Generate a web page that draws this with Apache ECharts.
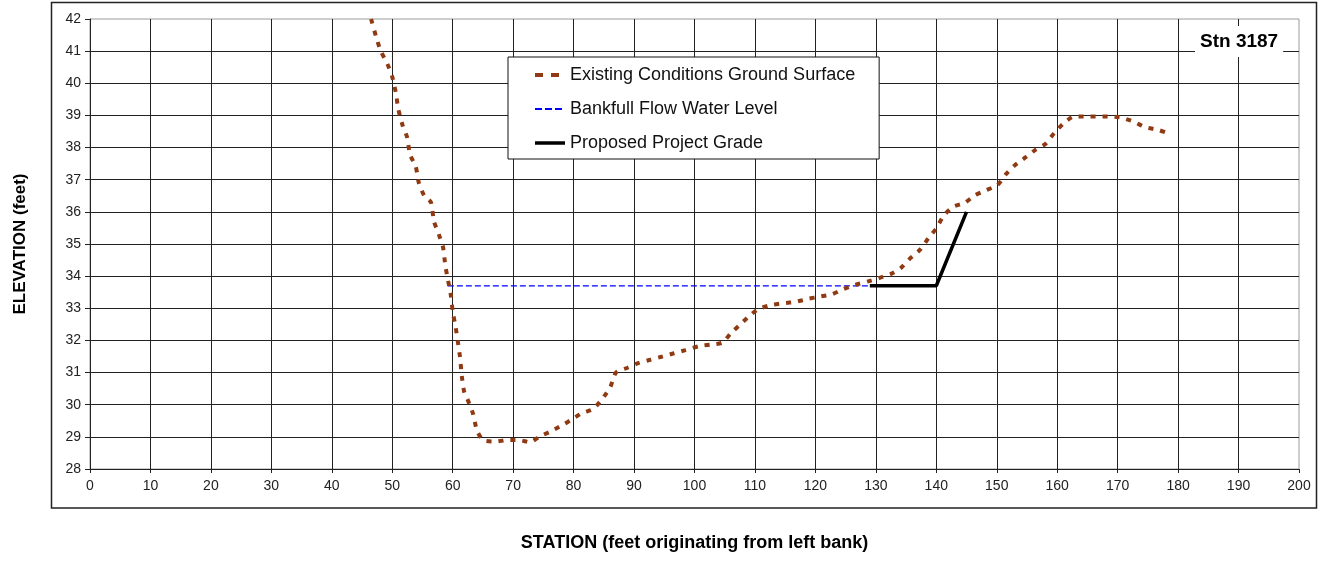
<!DOCTYPE html>
<html>
<head>
<meta charset="utf-8">
<script src="https://cdn.jsdelivr.net/npm/echarts@6/dist/echarts.min.js"></script>
<style>
html,body{margin:0;padding:0;background:#fff;}
#chart{width:1324px;height:572px;}
</style>
</head>
<body>
<div id="chart"></div>
<script>
// ---- data ----
const groundStation = [46.5,47.4,48.1,49.2,50.0,50.6,51.0,51.7,52.5,52.9,53.9,54.4,55.3,56.4,56.9,57.7,58.4,58.8,59.2,59.7,60.0,60.5,60.9,61.2,61.5,61.9,62.6,63.4,64.0,65.0,67.0,69.0,71.0,72.8,74.3,76.1,78.0,79.8,81.4,83.2,84.7,86.1,87.0,88.9,90.8,92.7,94.7,96.6,98.5,100.7,102.7,104.6,106.1,107.6,109.0,110.6,112.9,114.8,116.7,118.7,120.9,122.8,124.7,126.6,128.6,130.5,132.5,134.1,135.7,137.2,138.7,140.0,141.3,142.8,144.7,146.4,148.2,150.1,151.6,153.0,154.8,156.4,158.1,159.5,161.1,162.8,164.8,166.8,168.8,170.7,172.7,174.6,176.7,178.5];
const groundElevation = [42.0,41.4,41.0,40.6,40.2,39.7,39.2,38.7,38.3,37.8,37.4,36.9,36.5,36.3,35.7,35.3,34.9,34.3,33.9,33.4,32.9,32.4,31.9,31.5,30.9,30.4,30.1,29.7,29.2,28.9,28.85,28.9,28.9,28.83,29.0,29.16,29.35,29.55,29.74,29.86,30.17,30.56,31.0,31.15,31.3,31.4,31.5,31.6,31.7,31.82,31.87,31.93,32.24,32.5,32.75,32.98,33.11,33.16,33.2,33.29,33.37,33.44,33.6,33.73,33.83,33.94,34.07,34.25,34.56,34.8,35.18,35.49,35.9,36.16,36.28,36.52,36.67,36.83,37.19,37.45,37.7,37.93,38.12,38.45,38.76,38.97,38.97,38.97,38.97,38.93,38.8,38.63,38.55,38.43];
const bankfullStation = [59.2, 128.8];
const bankfullElevation = [33.7, 33.7];
const gradeStation = [129, 140, 145];
const gradeElevation = [33.7, 33.7, 36.0];
const seriesNames = ['Existing Conditions Ground Surface','Bankfull Flow Water Level','Proposed Project Grade'];
const stationLabel = 'Stn 3187';
const xTitle = 'STATION (feet originating from left bank)';
const yTitle = 'ELEVATION (feet)';

const zip = (a, b) => a.map((v, i) => [v, b[i]]);
const FONT = "Arial, 'Liberation Sans', sans-serif";

const groundStyle = {color: '#8f3a12', width: 4, type: [5, 7], cap: 'butt'};
const bankStyle = {color: '#0000ff', width: 1.2, type: [6, 3]};
const gradeStyle = {color: '#000', width: 3.5, type: 'solid'};

const chart = echarts.init(document.getElementById('chart'), null, {renderer: 'canvas'});
chart.setOption({
  animation: false,
  backgroundColor: '#fff',
  grid: {left: 90, right: 25, top: 19, bottom: 103, show: true, borderColor: '#9a9a9a', borderWidth: 1, backgroundColor: 'transparent'},
  xAxis: {
    type: 'value', min: 0, max: 200, interval: 10,
    name: xTitle, nameLocation: 'middle', nameGap: 65,
    nameTextStyle: {fontFamily: FONT, fontSize: 18, fontWeight: 'bold', color: '#000'},
    axisLine: {show: true, lineStyle: {color: '#222', width: 1}},
    axisTick: {show: true, inside: false, length: 4, lineStyle: {color: '#222'}},
    axisLabel: {fontFamily: FONT, fontSize: 14, color: '#222', margin: 10},
    splitLine: {show: true, showMaxLine: false, lineStyle: {color: '#222', width: 1}}
  },
  yAxis: {
    type: 'value', min: 28, max: 42, interval: 1,
    name: yTitle, nameLocation: 'middle', nameGap: 61, nameRotate: 90,
    nameTextStyle: {fontFamily: FONT, fontSize: 17, fontWeight: 'bold', color: '#000'},
    axisLine: {show: true, lineStyle: {color: '#222', width: 1}},
    axisTick: {show: true, inside: false, length: 5, lineStyle: {color: '#222'}},
    axisLabel: {fontFamily: FONT, fontSize: 14, color: '#222', margin: 9},
    splitLine: {show: true, showMaxLine: false, lineStyle: {color: '#222', width: 1}}
  },
  legend: {
    orient: 'vertical', left: 508, top: 57,
    data: [
      {name: seriesNames[0], lineStyle: {color: '#8f3a12', width: 4, type: [8, 8], cap: 'butt'}},
      {name: seriesNames[1], lineStyle: {color: '#0000ff', width: 2, type: [7, 3]}},
      {name: seriesNames[2], lineStyle: {color: '#000', width: 3.5, type: 'solid'}}
    ],
    backgroundColor: '#fff', borderColor: '#111', borderWidth: 1,
    padding: [8, 24, 6, 25],
    itemWidth: 30, itemHeight: 20, itemGap: 14,
    itemStyle: {opacity: 0},
    textStyle: {fontFamily: FONT, fontSize: 18, color: '#111', lineHeight: 20},
    selectedMode: false
  },
  graphic: [
    {type: 'rect', silent: true, z: 0,
     shape: {x: 51.5, y: 2.5, width: 1265, height: 505.5},
     style: {fill: 'none', stroke: '#222', lineWidth: 1.5}},
    {type: 'text', silent: true, z: 100, left: 1195, top: 26,
     style: {text: stationLabel, fontFamily: FONT, fontSize: 19, fontWeight: 'bold', fill: '#000',
             backgroundColor: '#fff', padding: [6, 5, 6, 5]}}
  ],
  series: [
    {name: seriesNames[0], type: 'line', z: 5, symbol: 'none', smooth: 0.2,
     data: zip(groundStation, groundElevation),
     itemStyle: {color: groundStyle.color},
     lineStyle: groundStyle},
    {name: seriesNames[1], type: 'line', z: 3, symbol: 'none',
     data: zip(bankfullStation, bankfullElevation),
     itemStyle: {color: bankStyle.color},
     lineStyle: bankStyle},
    {name: seriesNames[2], type: 'line', z: 4, symbol: 'none',
     data: zip(gradeStation, gradeElevation),
     itemStyle: {color: gradeStyle.color},
     lineStyle: gradeStyle}
  ]
});
</script>
</body>
</html>
